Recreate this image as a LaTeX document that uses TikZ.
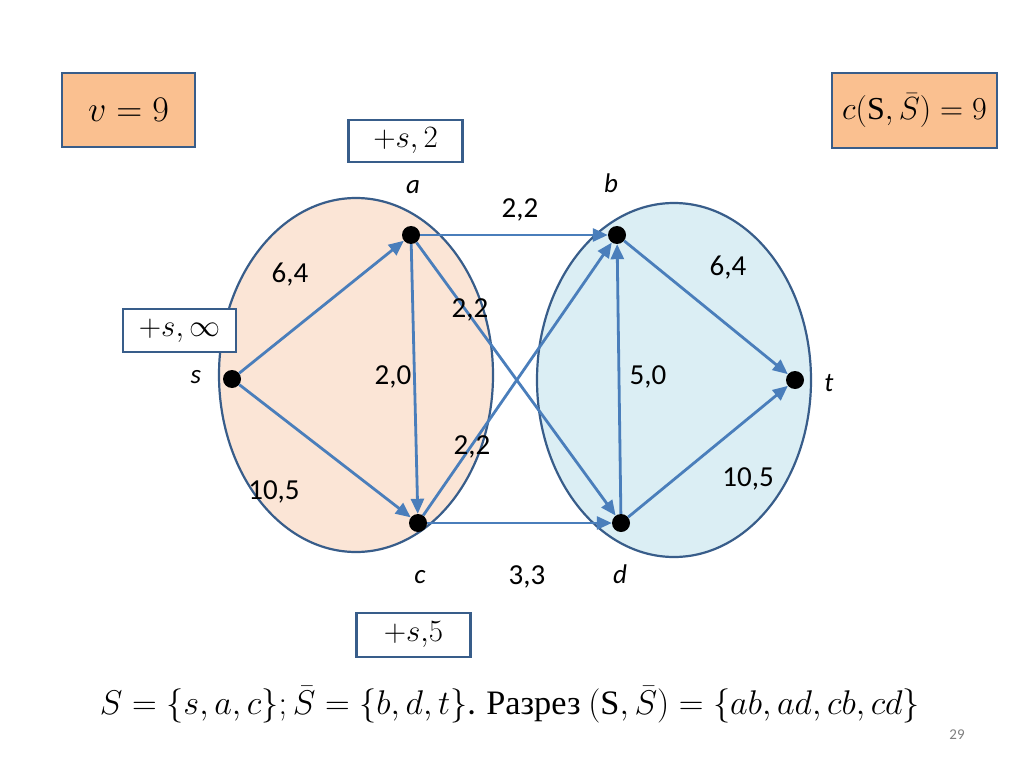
\RequirePackage{fix-cm}
\documentclass[tikz,border=0pt]{standalone}
\usepackage{fontspec}
\setmainfont{Carlito}
\newfontfamily\cyr{Liberation Serif}
\usepackage{graphicx}
\usetikzlibrary{arrows.meta}
\definecolor{edgeblue}{HTML}{4A7EBB}
\definecolor{darkb}{HTML}{385D8A}
\definecolor{peach}{HTML}{FBE5D6}
\definecolor{lblue}{HTML}{DBEEF4}
\definecolor{orangebox}{HTML}{FAC090}
\newcommand{\upS}{\mbox{\cyr S}}
\begin{document}
\begin{tikzpicture}[x=1pt,y=-1pt,
  vert/.style={circle,fill=black,inner sep=0pt,minimum size=18pt},
  flow/.style={draw=edgeblue,line width=2.8pt,-{Triangle[length=15pt,width=13pt]}},
  lbl/.style={font=\fontsize{29}{32}\selectfont},
  mlbl/.style={font=\fontsize{27}{30}\selectfont\itshape},
  region/.style={draw=darkb,line width=2.2pt},
  sumbox/.style={draw=darkb,line width=2.2pt,fill=orangebox,font=\fontsize{36}{40}\selectfont},
  markbox/.style={draw=darkb,line width=2.2pt,fill=white,font=\fontsize{31}{34}\selectfont,minimum height=42pt,minimum width=114pt}
]
\useasboundingbox (0,0) rectangle (1024,767);
\fill[white] (0,0) rectangle (1024,767);
% regions
\draw[region,fill=peach] (356,375) ellipse [x radius=137, y radius=177];
\draw[region,fill=lblue] (674,380) ellipse [x radius=137, y radius=177];
% vertices
\node[vert] (s) at (232,379) {};
\node[vert] (a) at (411,235) {};
\node[vert] (b) at (617,235) {};
\node[vert] (c) at (418,523) {};
\node[vert] (d) at (621,523) {};
\node[vert] (t) at (795,380) {};
% edges
\draw[flow] (s) -- (a);
\draw[flow] (s) -- (c);
\draw[flow] (a) -- (b);
\draw[flow] (a) -- (c);
\draw[flow] (a) -- (d);
\draw[flow] (c) -- (b);
\draw[flow] (c) -- (d);
\draw[flow] (d) -- (b);
\draw[flow] (b) -- (t);
\draw[flow] (d) -- (t);
% vertex labels
\node[mlbl] (la) at (413,187) {a};
\node[mlbl] (lb) at (611,183) {b};
\node[mlbl] (lc) at (420,577) {c};
\node[mlbl] (ld) at (620,574) {d};
\node[mlbl] (ls) at (196,377) {s};
\node[mlbl] (lt) at (829,383) {t};
% edge labels
\node[lbl] (e1) at (520,210) {2,2};
\node[lbl] (e2) at (290,275) {6,4};
\node[lbl] (e3) at (470,310) {2,2};
\node[lbl] (e4) at (393,377) {2,0};
\node[lbl] (e5) at (648,377) {5,0};
\node[lbl] (e6) at (472,447) {2,2};
\node[lbl] (e7) at (274,492) {10,5};
\node[lbl] (e8) at (527,577) {3,3};
\node[lbl] (e9) at (728,268) {6,4};
\node[lbl] (e10) at (748,479) {10,5};
% boxes
\node[sumbox,minimum width=133pt,minimum height=74pt] (vb) at (128.5,110) {$v=9$};
\node[sumbox,minimum width=165pt,minimum height=75pt,font=\fontsize{32}{36}\selectfont] (cb) at (914.5,110.5) {$c(\upS,\bar{S})=9$};
\node[markbox] (m2) at (405.5,141) {$+s,2$};
\node[markbox,minimum width=113pt,minimum height=43pt] (minf) at (179.5,330.5) {$+s,\infty$};
\node[markbox,minimum height=44pt] (m5) at (413.5,635) {$+s{,}5$};
% bottom text
\node[font=\fontsize{30}{36}\selectfont] (cut) at (510,705) {\resizebox{820pt}{!}{$S=\{s,a,c\};\bar{S}=\{b,d,t\}$. {\cyr Разрез} $(\upS,\bar{S})=\{ab,ad,cb,cd\}$}};
\node[font=\fontsize{15}{18}\selectfont,text=gray] (pg) at (957,735) {29};
\end{tikzpicture}
\end{document}
